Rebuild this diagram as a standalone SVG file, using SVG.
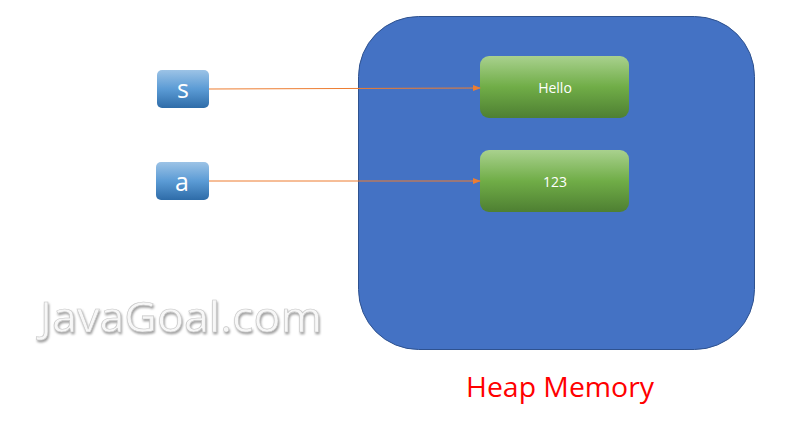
<svg xmlns="http://www.w3.org/2000/svg" width="788" height="435" viewBox="0 0 788 435">
<defs>
<linearGradient id="gb" x1="0" y1="0" x2="0" y2="1"><stop offset="0" stop-color="#9CC3E6"/><stop offset="0.5" stop-color="#5B9BD5"/><stop offset="1" stop-color="#2E6CA8"/></linearGradient>
<linearGradient id="gg" x1="0" y1="0" x2="0" y2="1"><stop offset="0" stop-color="#A9D18E"/><stop offset="0.5" stop-color="#70AD47"/><stop offset="1" stop-color="#4E7F32"/></linearGradient>
<marker id="ar" markerWidth="8" markerHeight="6" refX="7" refY="3" orient="auto" markerUnits="userSpaceOnUse"><path d="M0,0 L8,3 L0,6 z" fill="#ED7D31"/></marker>
<filter id="emb" x="-5%" y="-20%" width="110%" height="140%"><feGaussianBlur in="SourceAlpha" stdDeviation="1"/><feOffset dx="1" dy="1.5" result="b"/><feFlood flood-color="#A0A0A0"/><feComposite in2="b" operator="in"/><feMerge><feMergeNode/><feMergeNode in="SourceGraphic"/></feMerge></filter>
</defs>
<style>
.var{fill:url(#gb)}
.obj{fill:url(#gg)}
.t{font-family:"Open Sans","Liberation Sans",sans-serif;fill:#fff;text-anchor:middle}
.c{stroke:#ED7D31;stroke-width:1;fill:none;marker-end:url(#ar)}
</style>
<rect width="788" height="435" fill="#fff"/>
<g id="heap"><rect x="358.5" y="16.5" width="396" height="333" rx="60" fill="#4472C4" stroke="#2F528F" stroke-width="1"/></g>
<g id="hello"><rect class="obj" x="480" y="56" width="149" height="62" rx="9"/><text class="t" x="555" y="93" font-size="14">Hello</text></g>
<g id="n123"><rect class="obj" x="480" y="150" width="149" height="62" rx="9"/><text class="t" x="555" y="187" font-size="14">123</text></g>
<g id="s"><rect class="var" x="157" y="70" width="52" height="38" rx="5"/><text class="t" x="183" y="98" font-size="25">s</text></g>
<g id="a"><rect class="var" x="156" y="162" width="53" height="38" rx="5"/><text class="t" x="182" y="191" font-size="25">a</text></g>
<g id="connectors">
<line class="c" x1="209" y1="89" x2="480" y2="88"/>
<line class="c" x1="209" y1="181" x2="480" y2="181"/>
</g>
<text x="40" y="332" font-family="'Open Sans','Liberation Sans',sans-serif" font-size="42" textLength="282" lengthAdjust="spacingAndGlyphs" fill="#F7F7F7" stroke="#C8C8C8" stroke-width="0.6" filter="url(#emb)">JavaGoal.com</text>
<text x="466" y="397" font-family="'Open Sans','Liberation Sans',sans-serif" font-size="28" textLength="188" lengthAdjust="spacingAndGlyphs" fill="#FF0000">Heap Memory</text>
</svg>
